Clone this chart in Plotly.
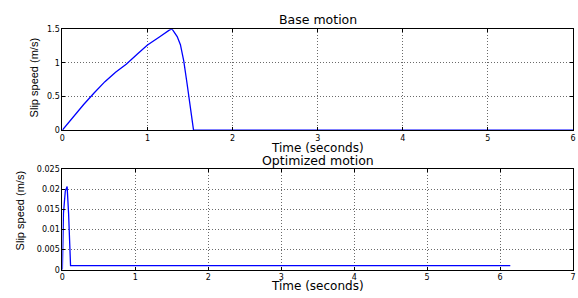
import plotly.graph_objects as go

# Base motion (top)
base_t = [0, 0.125, 0.25, 0.375, 0.5, 0.625, 0.75, 0.875, 1.0, 1.14, 1.26, 1.29, 1.349, 1.387, 1.426, 1.464, 1.503, 1.541, 6.0]
base_v = [0, 0.195, 0.38, 0.555, 0.72, 0.86, 0.98, 1.125, 1.265, 1.385, 1.49, 1.5, 1.39, 1.27, 1.03, 0.70, 0.36, 0.0, 0.0]

# Optimized motion (bottom)
opt_t = [0, 0.003, 0.015, 0.04, 0.065, 0.085, 0.112, 6.14]
opt_v = [0, 0.006, 0.014, 0.0195, 0.0206, 0.014, 0.001, 0.001]

top_xticks = [0, 1, 2, 3, 4, 5, 6]
top_yticks = [0, 0.5, 1, 1.5]
top_ytext = ["0", "0.5", "1", "1.5"]
bot_xticks = [0, 1, 2, 3, 4, 5, 6, 7]
bot_yticks = [0, 0.005, 0.01, 0.015, 0.02, 0.025]
bot_ytext = ["0", "0.005", "0.01", "0.015", "0.02", "0.025"]

titles = ["Base motion", "Optimized motion"]
xlabel = "Time (seconds)"
ylabel = "Slip speed (m/s)"

W, H = 578, 298
WIDE = "DejaVu Sans, Verdana, sans-serif"
NARROW = "Liberation Sans, Arial, sans-serif"

fig = go.Figure()
fig.add_trace(go.Scatter(x=base_t, y=base_v, mode="lines",
                         line=dict(color="#0000ff", width=1.3), xaxis="x", yaxis="y", showlegend=False))
fig.add_trace(go.Scatter(x=opt_t, y=opt_v, mode="lines",
                         line=dict(color="#0000ff", width=1.3), xaxis="x2", yaxis="y2", showlegend=False))

xdom = [60 / W, 576 / W]
ydom_top = [1 - 130 / H, 1 - 26 / H]
ydom_bot = [1 - 274 / H, 1 - 170 / H]

axcommon = dict(showline=True, linecolor="black", linewidth=1, mirror="ticks",
                ticks="inside", ticklen=3, tickcolor="black", showgrid=True,
                gridcolor="#6a6a6a", griddash="1px,2px", gridwidth=0.8, zeroline=False,
                ticklabeloverflow="allow",
                tickfont=dict(family=WIDE, size=8, color="black"))

fig.update_layout(
    width=W, height=H, autosize=False,
    margin=dict(l=0, r=0, t=0, b=0),
    plot_bgcolor="white", paper_bgcolor="white",
    xaxis=dict(domain=xdom, range=[0, 6], tickvals=top_xticks, anchor="y", **axcommon),
    yaxis=dict(domain=ydom_top, range=[0, 1.5], tickvals=top_yticks, ticktext=top_ytext, anchor="x", **axcommon),
    xaxis2=dict(domain=xdom, range=[0, 7], tickvals=bot_xticks, anchor="y2", **axcommon),
    yaxis2=dict(domain=ydom_bot, range=[0, 0.025], tickvals=bot_yticks, ticktext=bot_ytext, anchor="x2", **axcommon),
)

xc = (60 + 576) / 2 / W
def note(text, x, y, size=12.5, angle=0, family=WIDE):
    return dict(text=text, x=x, y=y, xref="paper", yref="paper", xanchor="center", yanchor="middle",
                textangle=angle, showarrow=False, font=dict(family=family, size=size, color="black"))

ann = [
    note(titles[0], xc, 1 - 16 / H),
    note(titles[1], xc, 1 - 161.5 / H),
    note(xlabel, xc, 1 - 148 / H, size=12),
    note(xlabel, xc, 1 - 290.5 / H, size=12),
    note(ylabel, 31 / W, 1 - 76 / H, size=11, angle=-90, family=NARROW),
    note(ylabel, 17 / W, 1 - 213 / H, size=11, angle=-90, family=NARROW),
]
fig.update_layout(annotations=ann)

fig.write_html("out.html", config={"displayModeBar": False},
               post_script="document.body.style.margin='0';document.body.style.overflow='hidden';")
